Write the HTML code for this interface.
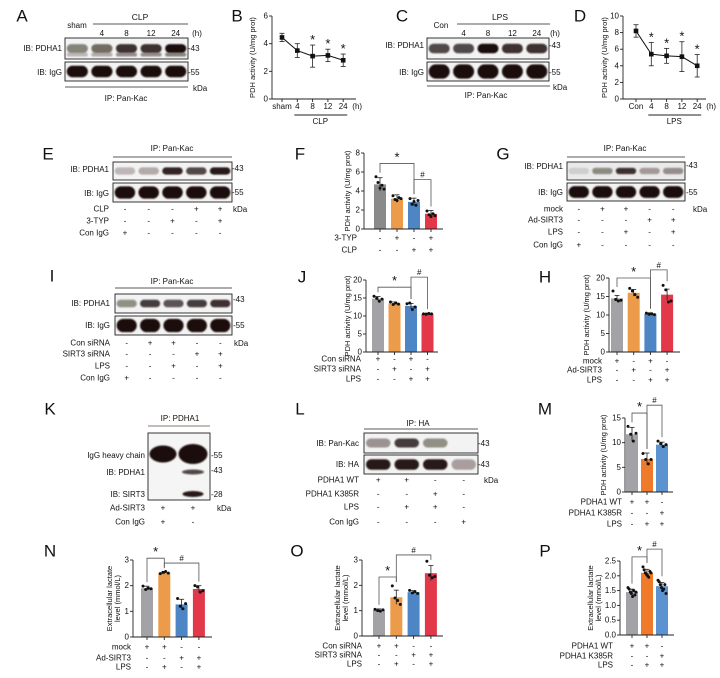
<!DOCTYPE html>
<html><head><meta charset="utf-8">
<style>
html,body{margin:0;padding:0;background:#fff;}
svg{display:block;font-family:"Liberation Sans",Arial,sans-serif;}
</style></head>
<body>
<svg id="fig" width="720" height="678" viewBox="0 0 720 678" xmlns="http://www.w3.org/2000/svg">
<defs><filter id="blur" x="-30%" y="-60%" width="160%" height="220%"><feGaussianBlur stdDeviation="0.8"/></filter></defs>
</svg>
<script>
// ---------- Panel B data ----------
const bCategories=['sham','4','8','12','24'];
const bMeans=[4.45,3.5,3.1,3.15,2.8];
const bErrors=[0.3,0.5,0.8,0.45,0.45];
const bStars=[0,0,1,1,1];
const bTicks=[0,2,4,6];
// ---------- Panel D data ----------
const dCategories=['Con','4','8','12','24'];
const dMeans=[8.2,5.4,5.2,5.1,4.0];
const dErrors=[0.75,1.4,0.9,1.8,1.35];
const dStars=[0,1,1,1,1];
const dTicks=[0,2,4,6,8,10];
// ---------- Panel F ----------
const fValues=[4.7,3.2,2.85,1.6];
const fErrors=[0.7,0.4,0.4,0.35];
const fPoints=[[5.5,4.9,4.3,4.6,4.2],[3.5,3.1,3.0,3.3,3.2],[3.2,2.6,2.9,2.5,3.0],[1.9,1.5,1.3,1.6,1.4]];
const fTicks=[0,2,4,6,8];
const fRowLabels=['3-TYP','CLP'];
const fRowSigns=['-+-+','--++'];
// ---------- Panel J ----------
const jValues=[14.8,13.5,12.8,10.6];
const jErrors=[0.6,0.4,0.7,0.2];
const jPoints=[[15.5,14.9,14.1,14.7],[13.9,13.2,13.6,13.3],[13.4,13.6,11.8,12.5],[10.6,10.5,10.7,10.6]];
const jTicks=[0,5,10,15,20];
const jRowLabels=['Con siRNA','SIRT3 siRNA','LPS'];
const jRowSigns=['+-+-','-+-+','--++'];
// ---------- Panel H ----------
const hValues=[14.5,16.0,10.3,15.5];
const hErrors=[0.8,0.9,0.3,1.5];
const hPoints=[[16.5,14.2,13.8,14.0],[17.2,16.5,15.5,14.8],[10.5,10.2,10.3,10.1],[18,16.8,13.5,13.8]];
const hTicks=[0,5,10,15,20];
const hRowLabels=['mock','Ad-SIRT3','LPS'];
const hRowSigns=['+-+-','-+-+','--++'];
// ---------- Panel M ----------
const mValues=[11.7,6.7,9.6];
const mErrors=[1.4,1.2,0.5];
const mPoints=[[13.3,11.7,10.3,11.9],[7.8,6.6,5.7,6.6],[10.3,9.8,9.2,9.6]];
const mTicks=[0,5,10,15];
const mRowLabels=['PDHA1 WT','PDHA1 K385R','LPS'];
const mRowSigns=['++-','--+','-++'];
// ---------- Panel N ----------
const nValues=[1.9,2.5,1.27,1.87];
const nErrors=[0.08,0.05,0.2,0.13];
const nPoints=[[1.98,1.85,1.9,1.88],[2.47,2.52,2.55,2.49],[1.5,1.2,1.1,1.3],[2.0,1.95,1.75,1.8]];
const nTicks=[0,1,2,3];
const nRowLabels=['mock','Ad-SIRT3','LPS'];
const nRowSigns=['++--','--++','-+-+'];
// ---------- Panel O ----------
const oValues=[1.02,1.53,1.73,2.48];
const oErrors=[0.05,0.28,0.06,0.3];
const oPoints=[[1.05,1.0,0.98,1.03],[1.98,1.5,1.4,1.25],[1.8,1.7,1.75,1.68],[2.95,2.4,2.3,2.35]];
const oTicks=[0,1,2,3];
const oRowLabels=['Con siRNA','SIRT3 siRNA','LPS'];
const oRowSigns=['++--','--++','-+-+'];
// ---------- Panel P ----------
const pValues=[1.45,2.1,1.65];
const pErrors=[0.1,0.12,0.12];
const pPoints=[[1.6,1.55,1.45,1.4,1.3,1.5,1.35,1.45],[2.3,2.2,2.1,2.05,2.0,1.95,2.15,2.1],[1.85,1.8,1.7,1.6,1.5,1.55,1.7,1.4]];
const pTicks=[0,0.5,1,1.5,2,2.5];
const pTickLabels=['0.0','0.5','1.0','1.5','2.0','2.5'];
const pRowLabels=['PDHA1 WT','PDHA1 K385R','LPS'];
const pRowSigns=['++-','--+','-++'];

const NS='http://www.w3.org/2000/svg';
const svg=document.getElementById('fig');
function mk(tag,parent,attrs){const e=document.createElementNS(NS,tag);for(const k in attrs)e.setAttribute(k,attrs[k]);parent.appendChild(e);return e;}
function grp(name){const g=mk('g',svg,{});


return g;}
function T(p,x,y,s,size,anchor,name,extra){
const t=mk('text',p,Object.assign({x:x,y:y,'font-size':size,'text-anchor':anchor||'start',fill:'#111'},extra||{}));
t.textContent=s;


return t;}
function L(p,x1,y1,x2,y2,w,c){return mk('line',p,{x1:x1,y1:y1,x2:x2,y2:y2,stroke:c||'#222','stroke-width':w||0.8});}

function panelLetter(s,x,y){T(svg,x,y,s,17,'middle','panel-label-'+s.toLowerCase(),{'dominant-baseline':'central'});}

// ---------- Blots ----------
function blotStrip(p,x,y,w,h,intens,name,opts){
  opts=opts||{};
  const r=mk('rect',p,{x:x,y:y,width:w,height:h,fill:opts.bg||'#f3f3f3',stroke:'#222','stroke-width':0.9});
  
  
  const n=intens.length, lw=w/n;
  intens.forEach(function(v,i){
    if(v<=0)return;
    const cx=x+lw*(i+0.5), bw=lw*0.86, bh=h*(opts.bandFrac||0.5);
    const b=mk('rect',p,{x:cx-bw/2,y:y+h/2-bh/2,width:bw,height:bh,rx:bh/2,fill:'#1c0f0a','fill-opacity':v,filter:'url(#blur)'});
    
    
    if(opts.doubleBand){const b2=mk('rect',p,{x:cx-bw/2,y:y+h*0.7,width:bw,height:h*0.18,rx:2,fill:'#1c0f0a','fill-opacity':v*0.5,filter:'url(#blur)'});
      
      }
  });
}
function signRow(p,label,signs,xs,y,labelRight,name){
  T(p,labelRight,y,label,8,'end',name+'-label',{'dominant-baseline':'central'});
  signs.split('').forEach(function(s,i){T(p,xs[i],y,s==='+'?'+':'-',8,'middle',name+'-sign',{'dominant-baseline':'central'});});
}
function laneXs(x,w,n){const a=[];for(let i=0;i<n;i++)a.push(x+w/n*(i+0.5));return a;}

// Panel A
(function(){const g=grp('panel-a-blot');panelLetter('A',22,16);
T(g,77,28,'sham',8,'middle','sham-label');T(g,140,20,'CLP',8.5,'middle','clp-header');L(g,93,24,188,24);
const xs=laneXs(65,123,5);['4','8','12','24'].forEach((s,i)=>T(g,xs[i+1],36,s,8,'middle','time-label'));T(g,197,36,'(h)',8,'middle','hours-unit');
T(g,62,51,'IB: PDHA1',8,'end','ib-pdha1-label');T(g,62,75,'IB: IgG',8,'end','ib-igg-label');
blotStrip(g,65,38,123,21,[0.5,0.6,0.85,0.85,1],'pdha1',{doubleBand:true,bandFrac:0.42});blotStrip(g,65,62,123,19,[1,1,1,1,1],'igg',{bandFrac:0.6});
T(g,188,51,'-43',8,'start','marker-43');T(g,188,75,'-55',8,'start','marker-55');
L(g,65,87,188,87);T(g,193,91,'kDa',8,'start','kda-label');T(g,126,101,'IP: Pan-Kac',8,'middle','ip-label');})();
// Panel C
(function(){const g=grp('panel-c-blot');panelLetter('C',402,16);
T(g,441,28,'Con',8,'middle','con-label');T(g,500,20,'LPS',8.5,'middle','lps-header');L(g,457,24,550,24);
const xs=laneXs(427,122,5);['4','8','12','24'].forEach((s,i)=>T(g,xs[i+1],36,s,8,'middle','time-label'));T(g,555,36,'(h)',8,'middle','hours-unit');
T(g,424,48,'IB: PDHA1',8,'end','ib-pdha1-label');T(g,424,75,'IB: IgG',8,'end','ib-igg-label');
blotStrip(g,427,38,122,21,[0.75,0.75,1,0.85,0.85],'pdha1',{bandFrac:0.45});blotStrip(g,427,62,122,19,[1,1,1,1,1],'igg',{bandFrac:0.75});
T(g,549,48,'-43',8,'start','marker-43');T(g,549,75,'-55',8,'start','marker-55');
L(g,427,86,550,86);T(g,553,90,'kDa',8,'start','kda-label');T(g,486,98,'IP: Pan-Kac',8,'middle','ip-label');})();
// Panel E
(function(){const g=grp('panel-e-blot');panelLetter('E',48,154);
T(g,172,151,'IP: Pan-Kac',8,'middle','ip-label');L(g,113,157,232,157);
T(g,109,172,'IB: PDHA1',8,'end','ib-pdha1-label');T(g,109,196,'IB: IgG',8,'end','ib-igg-label');
blotStrip(g,113,162,119,18,[0.25,0.3,0.9,0.75,0.95],'pdha1',{bandFrac:0.4});blotStrip(g,113,183,119,19,[1,1,1,1,1],'igg',{bandFrac:0.65});
T(g,232,171,'-43',8,'start','marker-43');T(g,232,195,'-55',8,'start','marker-55');
const xs=laneXs(113,119,5);
signRow(g,'CLP','---++',xs,209,109,'clp-row');signRow(g,'3-TYP','--+-+',xs,221,109,'3typ-row');signRow(g,'Con IgG','+----',xs,233,109,'conigg-row');
T(g,233,212,'kDa',8,'start','kda-label');})();
// Panel G
(function(){const g=grp('panel-g-blot');panelLetter('G',503,154);
T(g,625,151,'IP: Pan-Kac',8,'middle','ip-label');L(g,567,157,685,157);
T(g,563,169,'IB: PDHA1',8,'end','ib-pdha1-label');T(g,563,195,'IB: IgG',8,'end','ib-igg-label');
blotStrip(g,567,162,118,18,[0.12,0.45,0.85,0.35,0.4],'pdha1',{bg:'#eaeaea',bandFrac:0.35});blotStrip(g,567,183,118,18,[1,1,1,1,1],'igg',{bandFrac:0.65});
T(g,686,168,'-43',8,'start','marker-43');T(g,686,195,'-55',8,'start','marker-55');
const xs=laneXs(567,118,5);
signRow(g,'mock','-++--',xs,209,563,'mock-row');signRow(g,'Ad-SIRT3','---++',xs,220,563,'adsirt3-row');signRow(g,'LPS','--+-+',xs,232,563,'lps-row');signRow(g,'Con IgG','+----',xs,245,563,'conigg-row');
T(g,693,212,'kDa',8,'start','kda-label');})();
// Panel I
(function(){const g=grp('panel-i-blot');panelLetter('I',52,276);
T(g,172,284,'IP: Pan-Kac',8,'middle','ip-label');L(g,115,288,232,288);
T(g,110,306,'IB: PDHA1',8,'end','ib-pdha1-label');T(g,110,328,'IB: IgG',8,'end','ib-igg-label');
blotStrip(g,115,294,117,19,[0.45,0.8,0.7,0.8,0.85],'pdha1',{bandFrac:0.4});blotStrip(g,115,316,117,19,[1,1,1,1,1],'igg',{bandFrac:0.7});
T(g,233,302,'-43',8,'start','marker-43');T(g,233,328,'-55',8,'start','marker-55');
const xs=laneXs(115,117,5);
signRow(g,'Con siRNA','-++--',xs,343,110,'consirna-row');signRow(g,'SIRT3 siRNA','---++',xs,354,110,'sirt3sirna-row');signRow(g,'LPS','--+-+',xs,366,110,'lps-row');signRow(g,'Con IgG','+----',xs,378,110,'conigg-row');
T(g,234,346,'kDa',8,'start','kda-label');})();
// Panel K
(function(){const g=grp('panel-k-blot');panelLetter('K',50,409);
T(g,180,421,'IP: PDHA1',8,'middle','ip-label');L(g,148,426,210,426,1,'#8a7a70');
const r=mk('rect',g,{x:148,y:433,width:62,height:67,fill:'#f5f5f5',stroke:'#222','stroke-width':0.9});


[[163,454,27,17,1],[193,454,29,20,1],[193,472,22,5,0.75],[193,494,21,6,0.95]].forEach(function(b){
 const e=mk('ellipse',g,{cx:b[0],cy:b[1],rx:b[2]/2,ry:b[3]/2,fill:'#1c0f0a','fill-opacity':b[4],filter:'url(#blur)'});
 
 });
T(g,145,458,'IgG heavy chain',8,'end','igg-heavy-label');T(g,145,475,'IB: PDHA1',8,'end','ib-pdha1-label');T(g,145,497,'IB: SIRT3',8,'end','ib-sirt3-label');
T(g,211,458,'-55',8,'start','marker-55');T(g,211,473,'-43',8,'start','marker-43');T(g,211,497,'-28',8,'start','marker-28');
signRow(g,'Ad-SIRT3','++',[163,193],508,145,'adsirt3-row');signRow(g,'Con IgG','+-',[163,193],522,145,'conigg-row');
T(g,217,511,'kDa',8,'start','kda-label');})();
// Panel L
(function(){const g=grp('panel-l-blot');panelLetter('L',300,409);
T(g,418,426,'IP: HA',8,'middle','ip-label');L(g,364,429,478,429);
T(g,359,446,'IB: Pan-Kac',8,'end','ib-pankac-label');T(g,359,467,'IB: HA',8,'end','ib-ha-label');
blotStrip(g,364,433,114,20,[0.4,0.8,0.45,0],'pankac',{bandFrac:0.45});blotStrip(g,364,455,114,19,[0.95,0.95,0.95,0.35],'ha',{bandFrac:0.55});
T(g,478,446,'-43',8,'start','marker-43');T(g,478,467,'-43',8,'start','marker-43b');
const xs=laneXs(364,114,4);
signRow(g,'PDHA1 WT','++--',xs,480,359,'wt-row');signRow(g,'PDHA1 K385R','--+-',xs,494,359,'k385r-row');signRow(g,'LPS','-++-',xs,507,359,'lps-row');signRow(g,'Con IgG','---+',xs,522,359,'conigg-row');
T(g,484,483,'kDa',8,'start','kda-label');})();

// ---------- Line charts ----------
function lineChart(id,cfg,cats,means,errs,stars,ticks){
  const g=grp(id);
  const y=v=>cfg.y0-(v/cfg.vmax)*(cfg.y0-cfg.yTop);
  const x=i=>cfg.ax+cfg.off+i*cfg.step;
  L(g,cfg.ax,cfg.yTop,cfg.ax,cfg.y0,0.9);L(g,cfg.ax,cfg.y0,cfg.xEnd,cfg.y0,0.9);
  ticks.forEach(function(t){L(g,cfg.ax-3,y(t),cfg.ax,y(t),0.9);T(g,cfg.ax-4,y(t),String(t),8,'end','y-tick-label',{'dominant-baseline':'central'});});
  T(g,cfg.titleX,(cfg.yTop+cfg.y0)/2,'PDH activity (U/mg prot)',7.5,'middle','y-axis-title',{transform:'rotate(-90 '+cfg.titleX+' '+((cfg.yTop+cfg.y0)/2)+')'});
  cats.forEach(function(c,i){L(g,x(i),cfg.y0,x(i),cfg.y0+3,0.9);T(g,x(i),cfg.y0+10,c,8,'middle','x-tick-label');});
  T(g,x(cats.length-1)+14,cfg.y0+10,'(h)',8,'middle','hours-unit');
  L(g,x(1)-3,cfg.y0+16,x(cats.length-1)+4,cfg.y0+16,0.9);
  T(g,(x(1)+x(cats.length-1))/2,cfg.y0+25,cfg.group,8,'middle','group-label');
  const pts=means.map((m,i)=>x(i)+','+y(m)).join(' ');
  const pl=mk('polyline',g,{points:pts,fill:'none',stroke:'#111','stroke-width':1});
  
  
  means.forEach(function(m,i){
    L(g,x(i),y(m+errs[i]),x(i),y(m-errs[i]),0.8);L(g,x(i)-2.5,y(m+errs[i]),x(i)+2.5,y(m+errs[i]),0.8);L(g,x(i)-2.5,y(m-errs[i]),x(i)+2.5,y(m-errs[i]),0.8);
    const p=mk('rect',g,{x:x(i)-2.3,y:y(m)-2.3,width:4.6,height:4.6,fill:'#111'});
    
    
    if(stars[i])T(g,x(i),y(m+errs[i])-1,'*',13,'middle','significance-star');
  });
}
lineChart('panel-b-chart',{ax:272,off:10,step:15.3,y0:99,yTop:16,vmax:6,xEnd:356,titleX:255,group:'CLP'},bCategories,bMeans,bErrors,bStars,bTicks);
panelLetter('B',237,16);
lineChart('panel-d-chart',{ax:623,off:13,step:15.3,y0:99,yTop:16,vmax:10,xEnd:706,titleX:607,group:'LPS'},dCategories,dMeans,dErrors,dStars,dTicks);
panelLetter('D',580,16);

// ---------- Bar charts ----------
function barChart(id,cfg,values,errs,points,ticks,tickLabels,rowLabels,rowSigns,colors){
  const g=grp(id);
  const y=v=>cfg.y0-(v/cfg.vmax)*(cfg.y0-cfg.yTop);
  const x=i=>cfg.ax+cfg.off+i*cfg.step;
  const bw=12;
  values.forEach(function(v,i){
    const b=mk('rect',g,{x:x(i)-bw/2,y:y(v),width:bw,height:cfg.y0-y(v),fill:colors[i]});
    
    
    L(g,x(i),y(v+errs[i]),x(i),y(v-errs[i]),0.8);L(g,x(i)-2.5,y(v+errs[i]),x(i)+2.5,y(v+errs[i]),0.8);
    points[i].forEach(function(pv,j){
      const n=points[i].length;const dx=(j-(n-1)/2)*(8/Math.max(n-1,1));
      const c=mk('circle',g,{cx:x(i)+dx,cy:y(pv),r:1.5,fill:'#111'});
      
      
    });
  });
  L(g,cfg.ax,cfg.yTop,cfg.ax,cfg.y0,0.9);L(g,cfg.ax,cfg.y0,cfg.xEnd,cfg.y0,0.9);
  ticks.forEach(function(t,k){L(g,cfg.ax-3,y(t),cfg.ax,y(t),0.9);T(g,cfg.ax-4,y(t),tickLabels?tickLabels[k]:String(t),8,'end','y-tick-label',{'dominant-baseline':'central'});});
  values.forEach(function(v,i){L(g,x(i),cfg.y0,x(i),cfg.y0+3,0.9);});
  const cy=(cfg.yTop+cfg.y0)/2;
  if(cfg.title2){
    T(g,cfg.titleX-5,cy,cfg.title,7.5,'middle','y-axis-title',{transform:'rotate(-90 '+(cfg.titleX-5)+' '+cy+')'});
    T(g,cfg.titleX+3,cy,cfg.title2,7.5,'middle','y-axis-title-line2',{transform:'rotate(-90 '+(cfg.titleX+3)+' '+cy+')'});
  } else T(g,cfg.titleX,cy,cfg.title,7.5,'middle','y-axis-title',{transform:'rotate(-90 '+cfg.titleX+' '+cy+')'});
  const xs=values.map((v,i)=>x(i));
  rowLabels.forEach(function(lbl,r){signRow(g,lbl,rowSigns[r],xs,cfg.rowYs[r],cfg.rowRight,'condition-row');});
  cfg.brackets.forEach(function(br){
    const by=y(br.level);
    const tops=[br.a,br.b].map(function(i){return y(Math.max(values[i]+errs[i],Math.max.apply(null,points[i])))-4;});
    const ya=Math.max(by+5,tops[0]), yb=Math.max(by+5,tops[1]);
    const pth=mk('path',g,{d:'M'+x(br.a)+','+ya+'V'+by+'H'+x(br.b)+'V'+yb,fill:'none',stroke:'#555','stroke-width':0.8});
    
    
    T(g,(x(br.a)+x(br.b))/2,by-2,br.sym,br.sym==='*'?13:8,'middle',br.sym==='*'?'significance-star':'significance-hash');
  });
}
const C4=['#a3a3a7','#ec9b4b','#4e86c5','#e2384a'];
barChart('panel-f-chart',{ax:364,off:16,step:17,y0:229,yTop:153,vmax:8,xEnd:443,titleX:350,title:'PDH activity (U/mg prot)',rowYs:[238,250],rowRight:357,
 brackets:[{a:0,b:2,level:6.9,sym:'*'},{a:2,b:3,level:5.2,sym:'#'}]},fValues,fErrors,fPoints,fTicks,null,fRowLabels,fRowSigns,['#8a8a8a','#ec9b4b','#4e86c5','#e2384a']);
panelLetter('F',300,154);
barChart('panel-j-chart',{ax:366,off:12,step:16.5,y0:352,yTop:280,vmax:20,xEnd:438,titleX:350,title:'PDH activity (U/mg prot)',rowYs:[359,369,379],rowRight:361,
 brackets:[{a:0,b:2,level:18,sym:'*'},{a:2,b:3,level:20.8,sym:'#'}]},jValues,jErrors,jPoints,jTicks,null,jRowLabels,jRowSigns,C4);
panelLetter('J',302,277);
barChart('panel-h-chart',{ax:609,off:8,step:16.7,y0:352,yTop:278,vmax:20,xEnd:680,titleX:589,title:'PDH activity (U/mg prot)',rowYs:[361,370,380],rowRight:602,
 brackets:[{a:0,b:2,level:20,sym:'*'},{a:2,b:3,level:22.2,sym:'#'}]},hValues,hErrors,hPoints,hTicks,null,hRowLabels,hRowSigns,C4);
panelLetter('H',545,277);
barChart('panel-m-chart',{ax:625,off:7,step:15,y0:492,yTop:418,vmax:15,xEnd:673,titleX:606,title:'PDH activity (U/mg prot)',rowYs:[502,513,524],rowRight:622,
 brackets:[{a:0,b:1,level:16,sym:'*'},{a:1,b:2,level:17.6,sym:'#'}]},mValues,mErrors,mPoints,mTicks,null,mRowLabels,mRowSigns,['#a3a3a7','#ee7a2a','#5b93d0']);
panelLetter('M',545,409);
barChart('panel-n-chart',{ax:133,off:14,step:17.3,y0:637,yTop:560,vmax:3,xEnd:212,titleX:117,title:'Extracellular lactate',title2:'level  (mmol/L)',rowYs:[647,658,667],rowRight:131,
 brackets:[{a:0,b:1,level:3.07,sym:'*'},{a:1,b:3,level:2.88,sym:'#'}]},nValues,nErrors,nPoints,nTicks,null,nRowLabels,nRowSigns,C4);
panelLetter('N',50,551);
barChart('panel-o-chart',{ax:362,off:17,step:17.3,y0:636,yTop:560,vmax:3,xEnd:443,titleX:345,title:'Extracellular lactate',title2:'level  (mmol/L)',rowYs:[646,655,664],rowRight:362,
 brackets:[{a:0,b:1,level:2.33,sym:'*'},{a:1,b:3,level:3.2,sym:'#'}]},oValues,oErrors,oPoints,oTicks,null,oRowLabels,oRowSigns,C4);
panelLetter('O',297,551);
barChart('panel-p-chart',{ax:620,off:12,step:15,y0:635,yTop:561,vmax:2.5,xEnd:674,titleX:598,title:'Extracellular lactate',title2:'level  (mmol/L)',rowYs:[646,656,665],rowRight:613,
 brackets:[{a:0,b:1,level:2.64,sym:'*'},{a:1,b:2,level:2.9,sym:'#'}]},pValues,pErrors,pPoints,pTicks,pTickLabels,pRowLabels,pRowSigns,['#a3a3a7','#ee7a2a','#5b93d0']);
panelLetter('P',545,551);
</script>
</body></html>
